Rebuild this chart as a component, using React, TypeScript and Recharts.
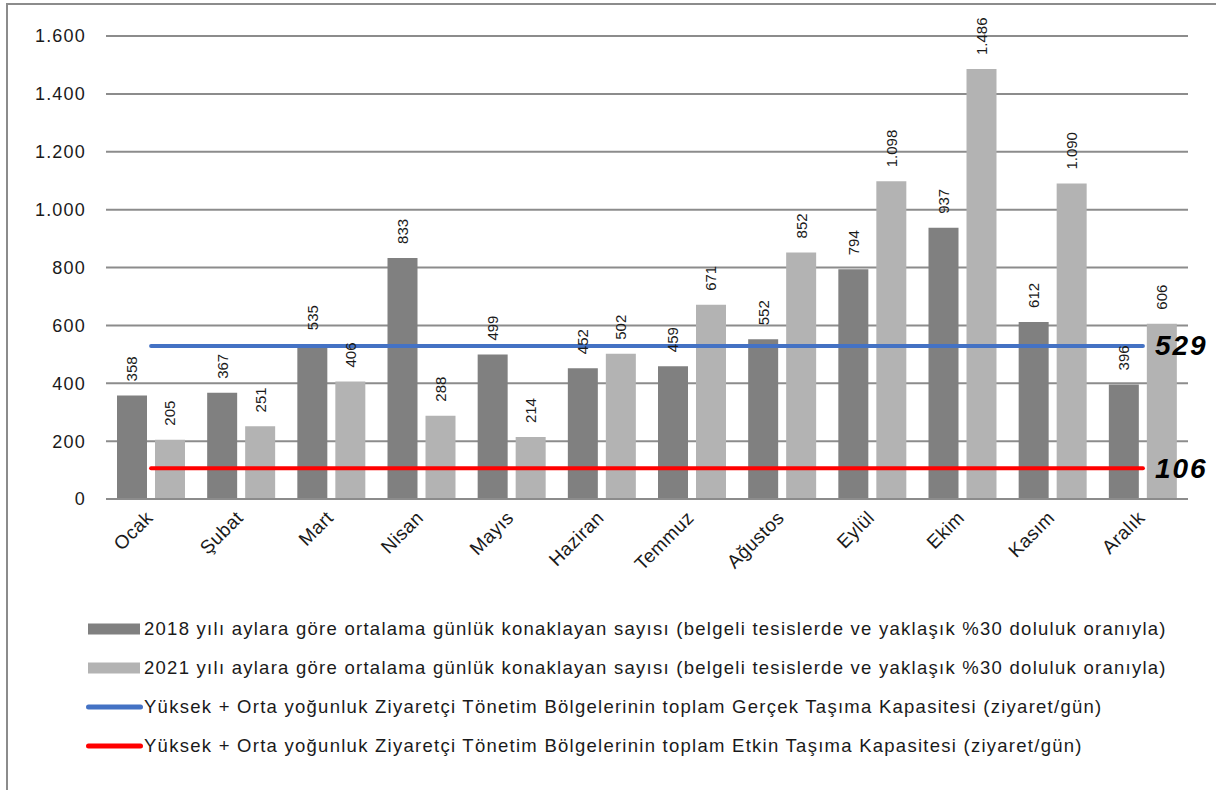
import React from "react";
import {
  ComposedChart,
  Bar,
  Line,
  XAxis,
  YAxis,
  CartesianGrid,
  LabelList,
} from "recharts";

const months = ["Ocak", "Şubat", "Mart", "Nisan", "Mayıs", "Haziran", "Temmuz", "Ağustos", "Eylül", "Ekim", "Kasım", "Aralık"];
const values2018 = [358, 367, 535, 833, 499, 452, 459, 552, 794, 937, 612, 396];
const values2021 = [205, 251, 406, 288, 214, 502, 671, 852, 1098, 1486, 1090, 606];
const realCapacity = 529;
const effectiveCapacity = 106;
const yTicks = [0, 200, 400, 600, 800, 1000, 1200, 1400, 1600];

const legendLabels = [
  "2018 yılı aylara göre ortalama günlük konaklayan sayısı (belgeli tesislerde ve yaklaşık %30 doluluk oranıyla)",
  "2021 yılı aylara göre ortalama günlük konaklayan sayısı (belgeli tesislerde ve yaklaşık %30 doluluk oranıyla)",
  "Yüksek + Orta yoğunluk Ziyaretçi Tönetim Bölgelerinin toplam Gerçek Taşıma Kapasitesi (ziyaret/gün)",
  "Yüksek + Orta yoğunluk Ziyaretçi Tönetim Bölgelerinin toplam Etkin Taşıma Kapasitesi (ziyaret/gün)",
];

const COLORS = {
  dark: "#808080",
  light: "#b3b3b3",
  blue: "#4472c4",
  red: "#ff0000",
  grid: "#8c8c8c",
};

const FONT = "'Liberation Sans', Arial, sans-serif";

const data = months.map((m, i) => ({
  month: m,
  v2018: values2018[i],
  v2021: values2021[i],
  real: realCapacity,
  eff: effectiveCapacity,
}));

const fmt = (v: number) => String(v).replace(/\B(?=(\d{3})+(?!\d))/g, ".");

const BarLabel = (props: any) => {
  const { x, y, width, value } = props;
  const cx = x + width / 2;
  const ty = y - 14;
  return (
    <text
      x={cx}
      y={ty}
      transform={`rotate(-90, ${cx}, ${ty})`}
      textAnchor="start"
      dominantBaseline="central"
      fontSize={15}
      fontFamily={FONT}
      fill="#1a1a1a"
    >
      {fmt(value)}
    </text>
  );
};

const EndLabel = (props: any) => {
  const { x, y, index, value } = props;
  if (index !== months.length - 1) return null;
  return (
    <text
      x={x + 12}
      y={y}
      dominantBaseline="central"
      fontSize={28}
      fontWeight="bold"
      fontStyle="italic"
      fontFamily={FONT}
      letterSpacing={2}
      fill="#000"
    >
      {value}
    </text>
  );
};

const XTick = (props: any) => {
  const { x, y, payload } = props;
  const tx = x + 3;
  const ty = y + 20;
  return (
    <text
      x={tx}
      y={ty}
      transform={`rotate(-45, ${tx}, ${ty})`}
      textAnchor="end"
      fontSize={19}
      letterSpacing={0.4}
      fontFamily={FONT}
      fill="#1a1a1a"
    >
      {payload.value}
    </text>
  );
};

const legendItems = [
  { type: "bar", color: COLORS.dark },
  { type: "bar", color: COLORS.light },
  { type: "line", color: COLORS.blue },
  { type: "line", color: COLORS.red },
];

export default function App() {
  return (
    <div style={{ position: "absolute", left: 0, top: 0, width: 1216, height: 790, background: "#fff", overflow: "hidden" }}>
      <div
        style={{
          position: "absolute",
          left: 6,
          top: 3,
          width: 1300,
          height: 900,
          borderLeft: "2px solid #8c8c8c",
          borderTop: "2px solid #8c8c8c",
        }}
      />
      <div style={{ position: "absolute", left: 0, top: 0 }}>
        <ComposedChart
          width={1216}
          height={790}
          data={data}
          margin={{ top: 36, right: 28, bottom: 0, left: 0 }}
          barSize={30}
          barGap={8}
        >
          <CartesianGrid vertical={false} stroke={COLORS.grid} strokeWidth={2} />
          <XAxis
            dataKey="month"
            height={291}
            interval={0}
            tickLine={false}
            tickSize={0}
            tickMargin={0}
            axisLine={{ stroke: COLORS.grid, strokeWidth: 2 }}
            tick={<XTick />}
          />
          <YAxis
            width={106}
            domain={[0, 1600]}
            ticks={yTicks}
            interval={0}
            tickFormatter={fmt}
            axisLine={false}
            tickLine={false}
            tickSize={0}
            tickMargin={20}
            tick={{ fontSize: 18, fontFamily: FONT, fill: "#1a1a1a", letterSpacing: 1.2 }}
          />
          <Bar dataKey="v2018" fill={COLORS.dark} isAnimationActive={false}>
            <LabelList dataKey="v2018" content={<BarLabel />} />
          </Bar>
          <Bar dataKey="v2021" fill={COLORS.light} isAnimationActive={false}>
            <LabelList dataKey="v2021" content={<BarLabel />} />
          </Bar>
          <Line
            dataKey="real"
            stroke={COLORS.blue}
            strokeWidth={4}
            strokeLinecap="round"
            dot={false}
            activeDot={false}
            isAnimationActive={false}
          >
            <LabelList dataKey="real" content={<EndLabel />} />
          </Line>
          <Line
            dataKey="eff"
            stroke={COLORS.red}
            strokeWidth={4}
            strokeLinecap="round"
            dot={false}
            activeDot={false}
            isAnimationActive={false}
          >
            <LabelList dataKey="eff" content={<EndLabel />} />
          </Line>
        </ComposedChart>
      </div>
      {legendItems.map((it, i) => (
        <div
          key={i}
          style={{
            position: "absolute",
            left: 86,
            top: 628.5 + i * 39.2 - 12,
            height: 24,
            display: "flex",
            alignItems: "center",
            whiteSpace: "nowrap",
            fontFamily: FONT,
            fontSize: 18.5,
            letterSpacing: 1.26,
            color: "#1a1a1a",
          }}
        >
          <svg width={58} height={24} style={{ display: "block" }}>
            {it.type === "bar" ? (
              <rect x={2} y={6.5} width={52} height={11} fill={it.color} />
            ) : (
              <line x1={2.5} y1={12} x2={54.5} y2={12} stroke={it.color} strokeWidth={5} strokeLinecap="round" />
            )}
          </svg>
          <span>{legendLabels[i]}</span>
        </div>
      ))}
    </div>
  );
}
